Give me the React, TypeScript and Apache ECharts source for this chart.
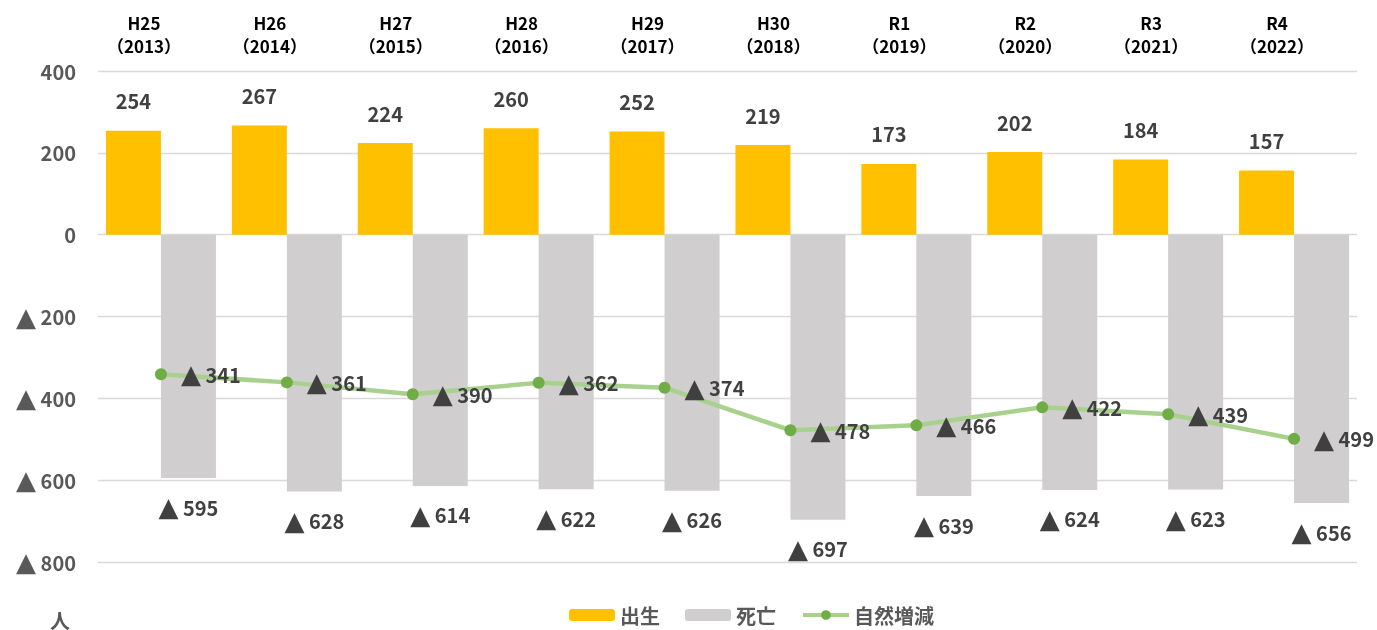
import React, { useEffect, useRef } from "react";
import * as echarts from "echarts";

const categories = [
  "H25\n（2013）", "H26\n（2014）", "H27\n（2015）", "H28\n（2016）", "H29\n（2017）",
  "H30\n（2018）", "R1\n（2019）", "R2\n（2020）", "R3\n（2021）", "R4\n（2022）",
];
const births = [254, 267, 224, 260, 252, 219, 173, 202, 184, 157];
const deaths = [-595, -628, -614, -622, -626, -697, -639, -624, -623, -656];
const natural = [-341, -361, -390, -362, -374, -478, -466, -422, -439, -499];

const FONT = "'Noto Sans CJK JP', 'Noto Sans', sans-serif";
const TRI_FONT = "'DejaVu Sans', sans-serif";
const fmt = (v: number) => (v < 0 ? "{t|▲} " + -v : String(v));

const triStyle = (color: string) => ({
  fontFamily: TRI_FONT,
  fontSize: 26,
  lineHeight: 22,
  color,
  fontWeight: "normal",
});

const valueLabel = (color: string) => ({
  fontFamily: FONT,
  fontSize: 20,
  fontWeight: "bold",
  color,
  formatter: (p: any) => fmt(typeof p === "number" ? p : p.value),
  rich: { t: triStyle(color) },
});

export default function App() {
  const ref = useRef<HTMLDivElement>(null);
  useEffect(() => {
    if (!ref.current) return;
    const chart = echarts.init(ref.current, null, { renderer: "svg" });
    chart.setOption({
      animation: false,
      textStyle: { fontFamily: FONT },
      grid: { left: 98, right: 20, top: 71, bottom: 64 },
      legend: {
        bottom: 0,
        left: 564,
        itemWidth: 46,
        itemHeight: 12,
        itemGap: 25,
        lineStyle: { width: 4 },
        textStyle: { fontFamily: FONT, fontSize: 20, fontWeight: "bold", color: "#595959" },
        data: [
          { name: "出生" },
          { name: "死亡" },
          { name: "自然増減", lineStyle: { width: 4, color: "#a9d18e" }, itemStyle: { color: "#70ad47" } },
        ],
      },
      xAxis: {
        type: "category",
        position: "top",
        data: categories,
        axisLine: { show: false },
        axisTick: { show: false },
        axisLabel: {
          margin: 14,
          fontFamily: FONT,
          fontSize: 17,
          fontWeight: "bold",
          color: "#000",
          lineHeight: 23,
          padding: [0, 34, 0, 0],
        },
      },
      yAxis: {
        type: "value",
        min: -800,
        max: 400,
        interval: 200,
        name: "人",
        nameLocation: "start",
        nameGap: 48,
        nameTextStyle: {
          fontFamily: FONT,
          fontSize: 20,
          fontWeight: "bold",
          color: "#595959",
          align: "center",
          padding: [0, 76, 0, 0],
        },
        axisLine: { show: false },
        axisTick: { show: false },
        splitLine: { lineStyle: { color: "#d9d9d9", width: 1.3 } },
        axisLabel: {
          margin: 22,
          fontFamily: FONT,
          fontSize: 20,
          fontWeight: "bold",
          color: "#595959",
          formatter: (v: number) => fmt(v),
          rich: { t: triStyle("#595959") },
        },
      },
      series: [
        {
          name: "出生",
          type: "bar",
          data: births,
          barWidth: 55,
          barGap: "0%",
          itemStyle: { color: "#ffc000" },
          label: { show: true, position: "top", distance: 20, ...valueLabel("#404040") },
        },
        {
          name: "死亡",
          type: "bar",
          data: deaths,
          barWidth: 55,
          barGap: "0%",
          itemStyle: { color: "#d0cece" },
          label: { show: true, position: "bottom", distance: 18, ...valueLabel("#404040") },
        },
        {
          name: "自然増減",
          type: "line",
          data: natural,
          z: 5,
          symbol: "circle",
          symbolSize: 12,
          itemStyle: { color: "#70ad47" },
          lineStyle: { color: "#a9d18e", width: 4.5 },
          label: { show: true, position: "right", distance: 14, ...valueLabel("#404040") },
        },
      ],
    });
    return () => chart.dispose();
  }, []);
  return (
    <div
      ref={ref}
      style={{ position: "fixed", left: 0, top: 0, width: 1377, height: 630 }}
    />
  );
}
